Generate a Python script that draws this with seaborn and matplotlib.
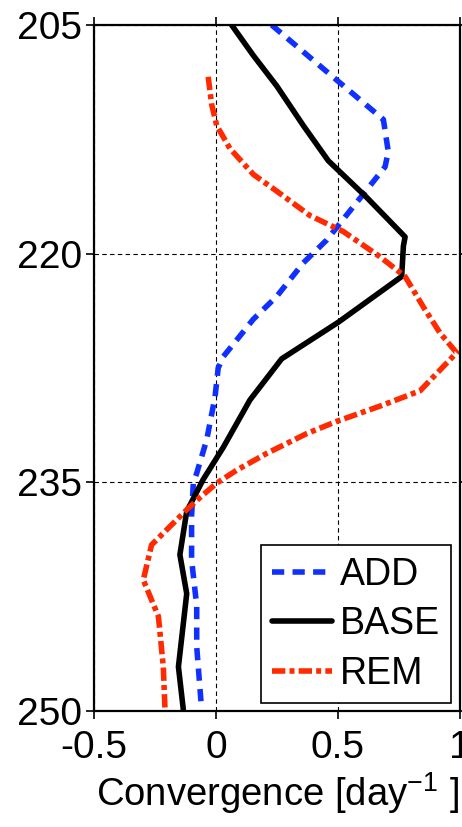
import numpy as np
import pandas as pd
import matplotlib
matplotlib.use("Agg")
import matplotlib.pyplot as plt
import seaborn as sns

# ---- data ----
base_x = [0.064, 0.153, 0.249, 0.358, 0.460, 0.617, 0.775, 0.768, 0.761, 0.501, 0.269, 0.139, 0.030, -0.052, -0.120, -0.148, -0.120, -0.154, -0.134]
base_p = [205.0, 207.0, 209.0, 211.6, 213.9, 216.3, 218.9, 219.5, 221.5, 224.5, 226.9, 229.6, 232.7, 234.8, 236.9, 239.75, 242.3, 247.1, 249.9]

add_x = [0.228, 0.479, 0.686, 0.706, 0.693, 0.454, 0.358, 0.249, 0.153, 0.098, 0.030, 0.009, -0.004, -0.038, -0.079, -0.093, -0.100, -0.100, -0.079, -0.079, -0.059]
add_p = [205.0, 208.4, 211.2, 213.3, 214.3, 219.1, 220.6, 222.8, 224.3, 225.4, 226.75, 227.5, 229.4, 232.2, 234.4, 235.05, 237.2, 240.1, 243.1, 245.8, 249.9]

rem_x = [-0.032, -0.018, 0.003, 0.057, 0.153, 0.249, 0.385, 0.522, 0.672, 0.775, 0.850, 0.918, 0.986, 0.836, 0.672, 0.495, 0.372, 0.208, 0.085, 0.003, -0.066, -0.120, -0.264, -0.298, -0.236, -0.216, -0.209]
rem_p = [208.4, 210.2, 211.6, 213.1, 214.8, 215.9, 217.5, 218.55, 220.2, 221.5, 223.5, 225.2, 226.5, 229.0, 230.0, 231.0, 231.8, 233.1, 234.2, 235.05, 236.0, 236.8, 239.1, 241.4, 243.8, 247.1, 249.9]

x_ticks = [-0.5, 0, 0.5, 1]
x_ticklabels = ["-0.5", "0", "0.5", "1"]
y_ticks = [205, 220, 235, 250]
y_ticklabels = ["205", "220", "235", "250"]

sns.set_theme(style="white")
plt.rcParams['font.family'] = ['Liberation Sans', 'DejaVu Sans']
plt.rcParams['text.color'] = 'black'
plt.rcParams['axes.labelcolor'] = 'black'
plt.rcParams['xtick.color'] = 'black'
plt.rcParams['ytick.color'] = 'black'
plt.rcParams['mathtext.fontset'] = 'custom'
plt.rcParams['mathtext.rm'] = 'Liberation Sans'
plt.rcParams['mathtext.it'] = 'Liberation Sans'
plt.rcParams['mathtext.default'] = 'regular'

fig = plt.figure(figsize=(4.62, 8.27), dpi=100)
ax = fig.add_axes([94/462, 1-711/827, (460-94)/462, (711-25)/827])

LW = 4.0
series = [
    ("ADD", add_x, add_p, "#1030ff", (0, (2.2, 1.5))),
    ("BASE", base_x, base_p, "black", "-"),
    ("REM", rem_x, rem_p, "#ff2a00", (0, (2.4, 0.75, 0.9, 0.75))),
]
for name, xs, ps, col, ls in series:
    df = pd.DataFrame({"conv": xs, "p": ps})
    sns.lineplot(data=df, x="conv", y="p", orient="y", sort=False, estimator=None,
                 color=col, linestyle=ls, linewidth=LW, label=name, ax=ax)

ax.set_xlim(-0.5, 1)
ax.set_ylim(250, 205)
ax.set_xticks(x_ticks)
ax.set_xticklabels(x_ticklabels)
ax.set_yticks(y_ticks)
ax.set_yticklabels(y_ticklabels)
ax.grid(True, color="black", linestyle=(0, (4, 3)), linewidth=0.8)
for s in ax.spines.values():
    s.set_color("black")
    s.set_linewidth(1.6)
ax.tick_params(axis="both", which="major", direction="out", length=5.5, width=1.2,
               colors="black", labelcolor="black", labelsize=28, top=True, right=True,
               bottom=True, left=True, labeltop=False, labelright=False)
ax.tick_params(axis="x", pad=8)
ax.tick_params(axis="y", pad=3)
ax.set_ylabel("")
ax.set_xlabel("Convergence [day$^{-1}$ ]", fontsize=27.5, color="black", labelpad=3)

leg = ax.legend(loc="lower right", bbox_to_anchor=(0.9754, 0.0117), fontsize=27,
                frameon=True, fancybox=False, edgecolor="black", framealpha=1,
                labelcolor="black",
                handlelength=1.6, handletextpad=0.2, borderpad=0.3, labelspacing=0.36,
                borderaxespad=0)
leg.get_frame().set_linewidth(1.2)

fig.savefig("out.png", dpi=100)
